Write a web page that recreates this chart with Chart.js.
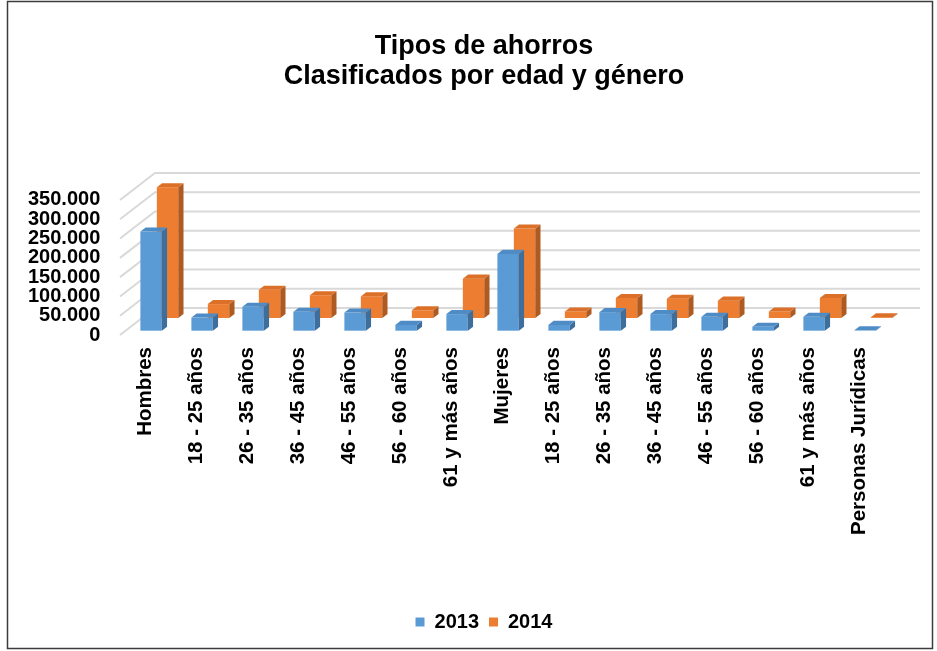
<!DOCTYPE html>
<html>
<head>
<meta charset="utf-8">
<script src="https://cdn.jsdelivr.net/npm/chart.js@4.4.1/dist/chart.umd.min.js"></script>
<style>
html,body{margin:0;padding:0;background:#fff;}
#wrap{width:937px;height:651px;position:relative;}
</style>
</head>
<body>
<div id="wrap"><canvas id="c" width="937" height="651"></canvas></div>
<script>
// ---- data ----
const categories = ['Hombres', '18 - 25 años', '26 - 35 años', '36 - 45 años', '46 - 55 años', '56 - 60 años', '61 y más años',
                    'Mujeres', '18 - 25 años', '26 - 35 años', '36 - 45 años', '46 - 55 años', '56 - 60 años', '61 y más años',
                    'Personas Jurídicas'];
const series2013 = [257000, 34000, 62000, 49000, 47000, 15000, 43000, 199000, 15000, 48000, 43000, 36000, 10000, 36000, 1000];
const series2014 = [339000, 36000, 73000, 59000, 56000, 20000, 102000, 232000, 17000, 52000, 50000, 45000, 17000, 52000, 2000];
const seriesNames = ['2013', '2014'];
const yTickValues = [0, 50000, 100000, 150000, 200000, 250000, 300000, 350000];
const titleLines = ['Tipos de ahorros', 'Clasificados por edad y género'];

// ---- 3D look ----
const DX = 35, DY = 27;          // depth of the whole plot box
const FD = 0.15;                 // bar depth (fraction of box depth)
const ROW_DEPTH = [0.16, 0.63];  // depth position of each series row
const FACE = [
  {front: '#5b9bd5', side: '#3e6e9c', top: '#4f8cc6'},
  {front: '#ed7d31', side: '#ae5a21', top: '#dc7029'}
];
const FONT = 'Liberation Sans, Arial, sans-serif';

function fmt(v) { return String(v).replace(/\B(?=(\d{3})+(?!\d))/g, '.'); }

const threeD = {
  id: 'threeD',
  beforeDraw(chart) {
    const ctx = chart.ctx;
    ctx.save();
    ctx.strokeStyle = '#3c3c3c';
    ctx.lineWidth = 1.5;
    ctx.strokeRect(7.5, 1.5, 925, 647);
    ctx.restore();
  },
  beforeDatasetsDraw(chart) {
    const ctx = chart.ctx, ys = chart.scales.y, area = chart.chartArea;
    ctx.save();
    ctx.strokeStyle = '#d9d9d9';
    ctx.lineWidth = 2;
    ys.ticks.forEach(t => {
      const y = ys.getPixelForValue(t.value);
      ctx.beginPath();
      ctx.moveTo(area.left, y);
      ctx.lineTo(area.left + DX, y - DY);
      ctx.lineTo(area.right + DX, y - DY);
      ctx.stroke();
    });
    ctx.restore();
  },
  beforeDatasetDraw() { return false; },
  afterDatasetsDraw(chart) {
    const ctx = chart.ctx;
    const ddx = FD * DX, ddy = FD * DY;
    ctx.save();
    [1, 0].forEach(di => {
      const meta = chart.getDatasetMeta(di);
      const f = ROW_DEPTH[di], c = FACE[di];
      meta.data.forEach(el => {
        const p = el.getProps(['x', 'y', 'base', 'width'], true);
        const x0 = p.x - p.width / 2 + f * DX, x1 = x0 + p.width;
        const yT = p.y - f * DY, yB = p.base - f * DY;
        ctx.fillStyle = c.front;
        ctx.fillRect(x0, yT, x1 - x0, yB - yT);
        ctx.fillStyle = c.side;
        ctx.beginPath();
        ctx.moveTo(x1, yT); ctx.lineTo(x1 + ddx, yT - ddy);
        ctx.lineTo(x1 + ddx, yB - ddy); ctx.lineTo(x1, yB);
        ctx.closePath(); ctx.fill();
        ctx.fillStyle = c.top;
        ctx.beginPath();
        ctx.moveTo(x0, yT); ctx.lineTo(x0 + ddx, yT - ddy);
        ctx.lineTo(x1 + ddx, yT - ddy); ctx.lineTo(x1, yT);
        ctx.closePath(); ctx.fill();
      });
    });
    ctx.restore();
  }
};

new Chart(document.getElementById('c'), {
  type: 'bar',
  data: {
    labels: categories,
    datasets: [
      {label: seriesNames[0], data: series2013, backgroundColor: FACE[0].front, borderWidth: 0},
      {label: seriesNames[1], data: series2014, backgroundColor: FACE[1].front, borderWidth: 0}
    ]
  },
  plugins: [threeD],
  options: {
    responsive: false,
    animation: false,
    devicePixelRatio: 1,
    layout: {padding: {left: 83, right: 52, top: 16, bottom: 9}},
    datasets: {bar: {grouped: false, categoryPercentage: 1, barPercentage: 0.42}},
    plugins: {
      title: {
        display: true, text: titleLines, color: '#000',
        font: {family: FONT, size: 27, weight: 'bold', lineHeight: 1.12},
        padding: {top: 15.5, bottom: 108}
      },
      legend: {
        position: 'bottom',
        labels: {boxWidth: 9, boxHeight: 9, padding: 10, color: '#000',
                 font: {family: FONT, size: 20, weight: 'bold'}}
      },
      tooltip: {enabled: false}
    },
    scales: {
      x: {
        grid: {display: false, drawTicks: false},
        border: {display: false},
        ticks: {autoSkip: false, minRotation: 90, maxRotation: 90, padding: 12, color: '#000',
                font: {family: FONT, size: 20.5, weight: 'bold'}},
        afterFit: s => { s.height = 267; }
      },
      y: {
        min: 0, max: 350000,
        afterBuildTicks: s => { s.ticks = yTickValues.map(v => ({value: v})); },
        grid: {display: false, drawTicks: false},
        border: {display: false},
        ticks: {autoSkip: false, mirror: true, crossAlign: 'far', padding: -92, color: '#000',
                font: {family: FONT, size: 20, weight: 'bold'},
                callback: v => fmt(v)},
        afterFit: s => { s.width = 37; }
      }
    }
  }
});
</script>
</body>
</html>
